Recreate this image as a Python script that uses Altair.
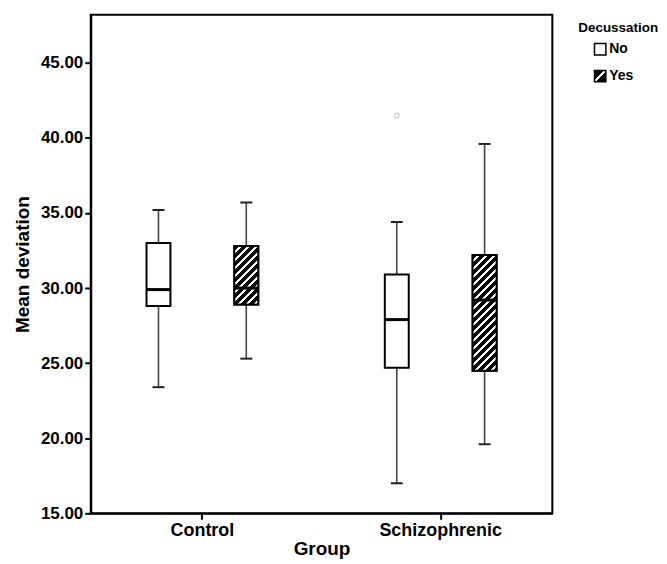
import altair as alt
import pandas as pd

# ---- data ----
groups = ["Control", "Control", "Schizophrenic", "Schizophrenic"]
decussation = ["No", "Yes", "No", "Yes"]
lower = [23.4, 25.3, 17.0, 19.6]
q1 = [28.8, 28.9, 24.7, 24.5]
median = [29.9, 30.0, 27.9, 29.2]
q3 = [33.0, 32.8, 30.9, 32.2]
upper = [35.2, 35.7, 34.4, 39.6]

out_group = ["Schizophrenic"]
out_dec = ["No"]
out_value = [41.5]

y_ticks = [15, 20, 25, 30, 35, 40, 45]

df = pd.DataFrame({"group": groups, "dec": decussation, "lower": lower, "q1": q1,
                   "median": median, "q3": q3, "upper": upper})
dfo = pd.DataFrame({"group": out_group, "dec": out_dec, "value": out_value})

FONT = "Liberation Sans"
BOX_W = 24

# hatch gradient (diagonal "/" stripes) computed per box height
L = 152.0
n = 19
stops = []
for k in range(n):
    a = k / n
    b = (k + 0.62) / n
    c = (k + 1) / n
    stops += [(a, "black"), (b, "black"), (b, "white"), (c, "white")]
stops_js = "[" + ",".join("{offset:%.4f,color:'%s'}" % (o, col) for o, col in stops) + "]"
H = "(scale('y', datum.q1) - scale('y', datum.q3))"
A = "(%f / (%d + %s * %s))" % (L, BOX_W * BOX_W, H, H)
hatch_expr = ("{gradient:'linear', x1:0, y1:0, x2:%d*%s, y2:%s*%s, stops:%s}"
              % (BOX_W, A, H, A, stops_js))

legend_hatch = ("{gradient:'linear', x1:0, y1:0, x2:1, y2:1, stops:["
                "{offset:0,color:'black'},{offset:0.43,color:'black'},"
                "{offset:0.43,color:'white'},{offset:0.57,color:'white'},"
                "{offset:0.57,color:'black'},{offset:1,color:'black'}]}")

x_enc = alt.X("group:N",
              scale=alt.Scale(paddingInner=0.263, paddingOuter=0.1),
              axis=alt.Axis(title="Group", labelAngle=0, labelFont=FONT,
                            labelFontWeight="bold", labelFontSize=18,
                            titleFont=FONT, titleFontWeight="bold",
                            titleFontSize=19, titlePadding=0, tickSize=6,
                            tickWidth=2, tickColor="black", labelPadding=2,
                            domainColor="black", domainWidth=2,
                            labelColor="black", titleColor="black"))
xo_enc = alt.XOffset("dec:N", scale=alt.Scale(paddingInner=0, paddingOuter=0))
y_scale = alt.Scale(domain=[15, 48.2], nice=False, zero=False)
y_axis = alt.Axis(title="Mean deviation", values=y_ticks, format=".2f",
                  labelFont=FONT, labelFontWeight="bold", labelFontSize=17,
                  titleFont=FONT, titleFontWeight="bold", titleFontSize=19,
                  titlePadding=8, tickSize=6, tickWidth=2, tickColor="black",
                  domainColor="black", domainWidth=2, grid=False,
                  labelColor="black", titleColor="black")

base = alt.Chart(df).encode(x=x_enc, xOffset=xo_enc)

whisker = base.mark_rule(color="#444", strokeWidth=1.6).encode(
    y=alt.Y("lower:Q", scale=y_scale, axis=y_axis), y2="upper:Q")
cap_lo = base.mark_tick(color="#222", size=12, thickness=2, opacity=1).encode(y="lower:Q")
cap_hi = base.mark_tick(color="#222", size=12, thickness=2, opacity=1).encode(y="upper:Q")

box = base.mark_bar(size=BOX_W, stroke="black", strokeWidth=2).encode(
    y="q1:Q", y2="q3:Q",
    fill=alt.Fill("dec:N",
                  scale=alt.Scale(domain=["No", "Yes"],
                                  range=["white", {"expr": legend_hatch}]),
                  legend=alt.Legend(title="Decussation", orient="none",
                                    legendX=489, legendY=6, titleFont=FONT,
                                    titleFontWeight="bold", titleFontSize=13.5,
                                    titleColor="black", labelFont=FONT,
                                    labelFontWeight="bold", labelFontSize=14,
                                    labelColor="black", symbolType="square",
                                    symbolSize=130, symbolStrokeColor="black",
                                    symbolStrokeWidth=1.5, rowPadding=9,
                                    symbolOffset=15,
                                    titlePadding=8, labelOffset=2, padding=0)))

hatch = base.transform_filter(alt.datum.dec == "Yes").mark_bar(
    size=BOX_W, stroke="black", strokeWidth=2).encode(
    y="q1:Q", y2="q3:Q", fill=alt.value({"expr": hatch_expr}))

med = base.mark_tick(color="black", size=BOX_W, thickness=3, opacity=1).encode(y="median:Q")

outl = alt.Chart(dfo).mark_point(shape="circle", size=22, filled=False,
                                 color="#bbbbbb", strokeWidth=1, opacity=1).encode(
    x=alt.X("group:N"), xOffset=alt.XOffset("dec:N"), y="value:Q")

chart = alt.layer(whisker, cap_lo, cap_hi, box, hatch, med, outl).properties(
    width=463, height=500,
    padding={"left": 5, "top": 6, "right": 0, "bottom": 0}
).configure_view(stroke="black", strokeWidth=2)

chart.save("out.html", embed_options={"renderer": "svg", "actions": False})
